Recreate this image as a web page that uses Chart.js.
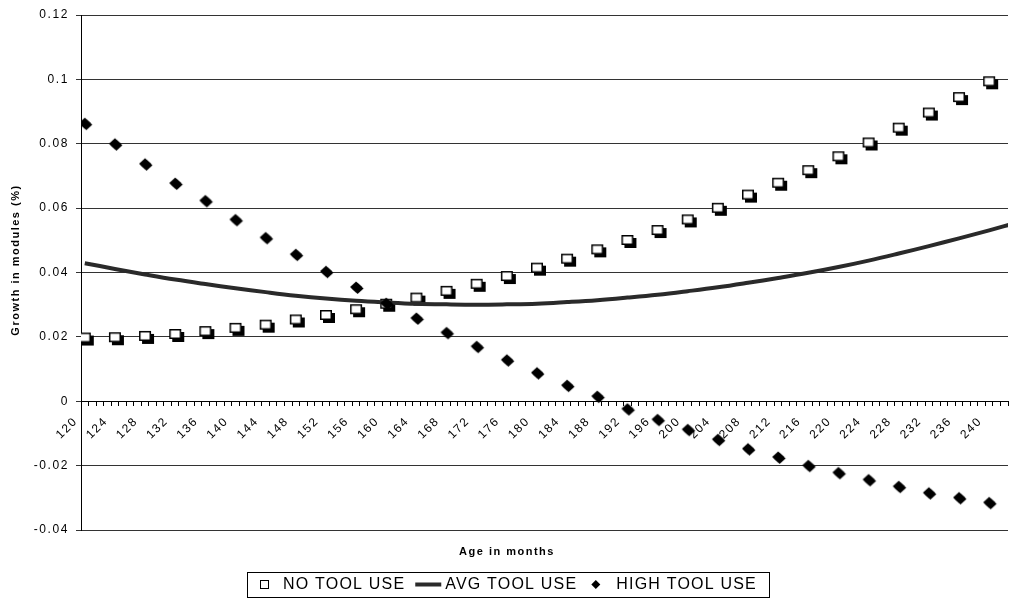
<!DOCTYPE html>
<html>
<head>
<meta charset="utf-8">
<title>Growth in modules by age</title>
<script src="https://cdn.jsdelivr.net/npm/chart.js@4.4.1/dist/chart.umd.min.js"></script>
<style>
  html, body { margin: 0; padding: 0; background: #ffffff; }
  #wrap { width: 1015px; height: 599px; position: relative; }
</style>
</head>
<body>
<div id="wrap"><canvas id="chart" width="1015" height="599"></canvas></div>
<script>
// Age in months at which each series is sampled
const months = [120, 124, 128, 132, 136, 140, 144, 148, 152, 156, 160, 164, 168, 172, 176, 180,
                184, 188, 192, 196, 200, 204, 208, 212, 216, 220, 224, 228, 232, 236, 240];

// Growth in modules (%) — no tool use
const noToolUse = [0.0198, 0.0199, 0.0203, 0.0209, 0.0218, 0.0228, 0.0238, 0.0254, 0.0268, 0.0286,
                   0.0303, 0.0322, 0.0343, 0.0365, 0.0389, 0.0415, 0.0443, 0.0472, 0.0501, 0.0532,
                   0.0565, 0.0601, 0.0642, 0.0679, 0.0718, 0.0761, 0.0804, 0.0850, 0.0897, 0.0945, 0.0994];

// Growth in modules (%) — high tool use
const highToolUse = [0.0864, 0.0800, 0.0738, 0.0678, 0.0624, 0.0565, 0.0509, 0.0457, 0.0404, 0.0355,
                     0.0305, 0.0259, 0.0214, 0.0171, 0.0129, 0.0089, 0.0050, 0.0016, -0.0023, -0.0056,
                     -0.0087, -0.0118, -0.0147, -0.0173, -0.0199, -0.0221, -0.0243, -0.0264, -0.0284, -0.0299, -0.0314];

// Average tool use curve (runs on past the last labelled month to the plot edge)
const avgMonths = [120, 124, 128, 132, 136, 140, 144, 148, 152, 156, 160, 164, 168, 172, 176, 180,
                   184, 188, 192, 196, 200, 204, 208, 212, 216, 220, 224, 228, 232, 236, 240, 244];
const avgToolUse = [0.0429, 0.0411, 0.0394, 0.0378, 0.0364, 0.0351, 0.0339, 0.0328, 0.0319, 0.0312,
                    0.0307, 0.0303, 0.0301, 0.0300, 0.0301, 0.0303, 0.0308, 0.0314, 0.0322, 0.0331,
                    0.0342, 0.0354, 0.0368, 0.0383, 0.0399, 0.0417, 0.0437, 0.0459, 0.0482, 0.0506, 0.0531, 0.0557];

// Axis tick values
const xLabelMonths = [120, 124, 128, 132, 136, 140, 144, 148, 152, 156, 160, 164, 168, 172, 176, 180,
                      184, 188, 192, 196, 200, 204, 208, 212, 216, 220, 224, 228, 232, 236, 240];
const yTicks = [-0.04, -0.02, 0, 0.02, 0.04, 0.06, 0.08, 0.1, 0.12];

const seriesNames = ['NO TOOL USE', 'AVG TOOL USE', 'HIGH TOOL USE'];
const xTitle = 'Age in months';
const yTitle = 'Growth in modules (%)';

// Category range: one slot per month, first slot starts half a month before 120
const X_MIN = 119.5;
const X_MAX = 242.5;
const FONT = "'Liberation Sans', Arial, Helvetica, sans-serif";
const SPACING = '1.6px';

Chart.defaults.font.family = FONT;
Chart.defaults.color = '#000';

// Marker sprites: hollow square with drop shadow, filled diamond with drop shadow
function makeSquare() {
  const c = document.createElement('canvas');
  c.width = 20; c.height = 20;
  const g = c.getContext('2d');
  const w = 12, h = 10, x0 = 10 - w / 2, y0 = 10 - h / 2;
  g.fillStyle = '#000';
  g.fillRect(x0 + 3, y0 + 3, w, h);
  g.fillStyle = '#fff';
  g.fillRect(x0, y0, w, h);
  g.strokeStyle = '#000';
  g.lineWidth = 1.5;
  g.strokeRect(x0 + 0.75, y0 + 0.75, w - 1.5, h - 1.5);
  return c;
}
function makeDiamond() {
  const c = document.createElement('canvas');
  c.width = 20; c.height = 20;
  const g = c.getContext('2d');
  const diamond = (cx, cy) => {
    g.beginPath();
    g.moveTo(cx, cy - 5.5);
    g.lineTo(cx + 6, cy);
    g.lineTo(cx, cy + 5.5);
    g.lineTo(cx - 6, cy);
    g.closePath();
    g.fill();
  };
  g.fillStyle = '#000';
  diamond(11.5, 11.5);
  diamond(10, 10);
  return c;
}

// Month positions for the minor tick marks
const monthTicks = [];
for (let m = Math.ceil(X_MIN); m <= Math.floor(X_MAX); m++) monthTicks.push(m);
const labelled = new Set(xLabelMonths);

const toPoints = (xs, ys) => xs.map((x, i) => ({ x: x, y: ys[i] }));

// Axis titles, boxed legend and text spacing
const frame = {
  id: 'frame',
  beforeLayout(chart) { chart.ctx.letterSpacing = SPACING; },
  beforeDraw(chart) { chart.ctx.letterSpacing = SPACING; },
  afterDraw(chart) {
    const ctx = chart.ctx;
    ctx.save();
    ctx.fillStyle = '#000';
    ctx.letterSpacing = '1.5px';

    // y axis title
    ctx.save();
    ctx.translate(16, 260);
    ctx.rotate(-Math.PI / 2);
    ctx.font = 'bold 11px ' + FONT;
    ctx.textAlign = 'center';
    ctx.textBaseline = 'middle';
    ctx.fillText(yTitle, 0, 0);
    ctx.restore();

    // x axis title
    ctx.font = 'bold 11px ' + FONT;
    ctx.textAlign = 'center';
    ctx.textBaseline = 'middle';
    ctx.fillText(xTitle, 507, 552);

    // legend
    ctx.letterSpacing = '1.2px';
    ctx.font = '16px ' + FONT;
    ctx.textAlign = 'left';
    const w = seriesNames.map(s => ctx.measureText(s).width);
    const padL = 13, padR = 12, mark = 9, gapMT = 14, gapTL = 10, lineLen = 26, gapLT = 4, gapTD = 14, gapDT = 16;
    const total = padL + mark + gapMT + w[0] + gapTL + lineLen + gapLT + w[1] + gapTD + mark + gapDT + w[2] + padR;
    const left = Math.round(chart.width / 2 - total / 2);
    const top = 572, bottom = 597, cy = 584.5;
    ctx.strokeStyle = '#000';
    ctx.lineWidth = 1;
    ctx.strokeRect(left + 0.5, top + 0.5, Math.round(total), bottom - top);

    let x = left + padL;
    ctx.strokeRect(Math.round(x) + 0.5, Math.round(cy - 4.5) + 0.5, 8, 8);
    x += mark + gapMT;
    ctx.fillText(seriesNames[0], x, cy);
    x += w[0] + gapTL;
    ctx.fillStyle = '#2a2a2a';
    ctx.fillRect(x, cy - 2, lineLen, 4);
    ctx.fillStyle = '#000';
    x += lineLen + gapLT;
    ctx.fillText(seriesNames[1], x, cy);
    x += w[1] + gapTD;
    ctx.beginPath();
    ctx.moveTo(x + mark / 2, cy - 4.5);
    ctx.lineTo(x + mark, cy);
    ctx.lineTo(x + mark / 2, cy + 4.5);
    ctx.lineTo(x, cy);
    ctx.closePath();
    ctx.fill();
    x += mark + gapDT;
    ctx.fillText(seriesNames[2], x, cy);
    ctx.restore();
  }
};

new Chart(document.getElementById('chart'), {
  type: 'line',
  data: {
    datasets: [
      {
        label: seriesNames[0],
        data: toPoints(months, noToolUse),
        showLine: false,
        pointStyle: makeSquare(),
        pointRadius: 6,
        order: 3
      },
      {
        label: seriesNames[1],
        data: toPoints(avgMonths, avgToolUse),
        borderColor: '#2a2a2a',
        borderWidth: 4,
        pointRadius: 0,
        tension: 0.4,
        fill: false,
        order: 2
      },
      {
        label: seriesNames[2],
        data: toPoints(months, highToolUse),
        showLine: false,
        pointStyle: makeDiamond(),
        pointRadius: 6,
        order: 1
      }
    ]
  },
  options: {
    responsive: false,
    animation: false,
    events: [],
    layout: { padding: { top: 15, right: 0, bottom: 69, left: 0 } },
    plugins: {
      legend: { display: false },
      tooltip: { enabled: false },
      title: { display: false }
    },
    scales: {
      x: {
        type: 'linear',
        position: { y: 0 },
        min: X_MIN,
        max: X_MAX,
        afterBuildTicks(s) { s.ticks = monthTicks.map(v => ({ value: v })); },
        afterFit(s) { s.height = 0; s.paddingLeft = 0; s.paddingRight = 0; },
        ticks: {
          autoSkip: false,
          minRotation: 45,
          maxRotation: 45,
          padding: 9,
          labelOffset: -9,
          color: '#000',
          font: { size: 12, family: FONT },
          callback: v => (labelled.has(v) ? String(v) : '')
        },
        grid: {
          offset: true,
          drawOnChartArea: false,
          drawTicks: true,
          tickLength: 4,
          color: '#000',
          lineWidth: 1
        },
        border: { display: true, color: '#000', width: 1 }
      },
      y: {
        type: 'linear',
        min: yTicks[0],
        max: yTicks[yTicks.length - 1],
        afterBuildTicks(s) { s.ticks = yTicks.map(v => ({ value: v })); },
        afterFit(s) { s.width = 81; },
        ticks: {
          padding: 7,
          color: '#000',
          font: { size: 12, family: FONT },
          callback: v => String(+v.toFixed(2))
        },
        grid: { color: '#333', lineWidth: 1, tickLength: 5, drawTicks: true },
        border: { display: true, color: '#000', width: 1 }
      }
    }
  },
  plugins: [frame]
});
</script>
</body>
</html>
